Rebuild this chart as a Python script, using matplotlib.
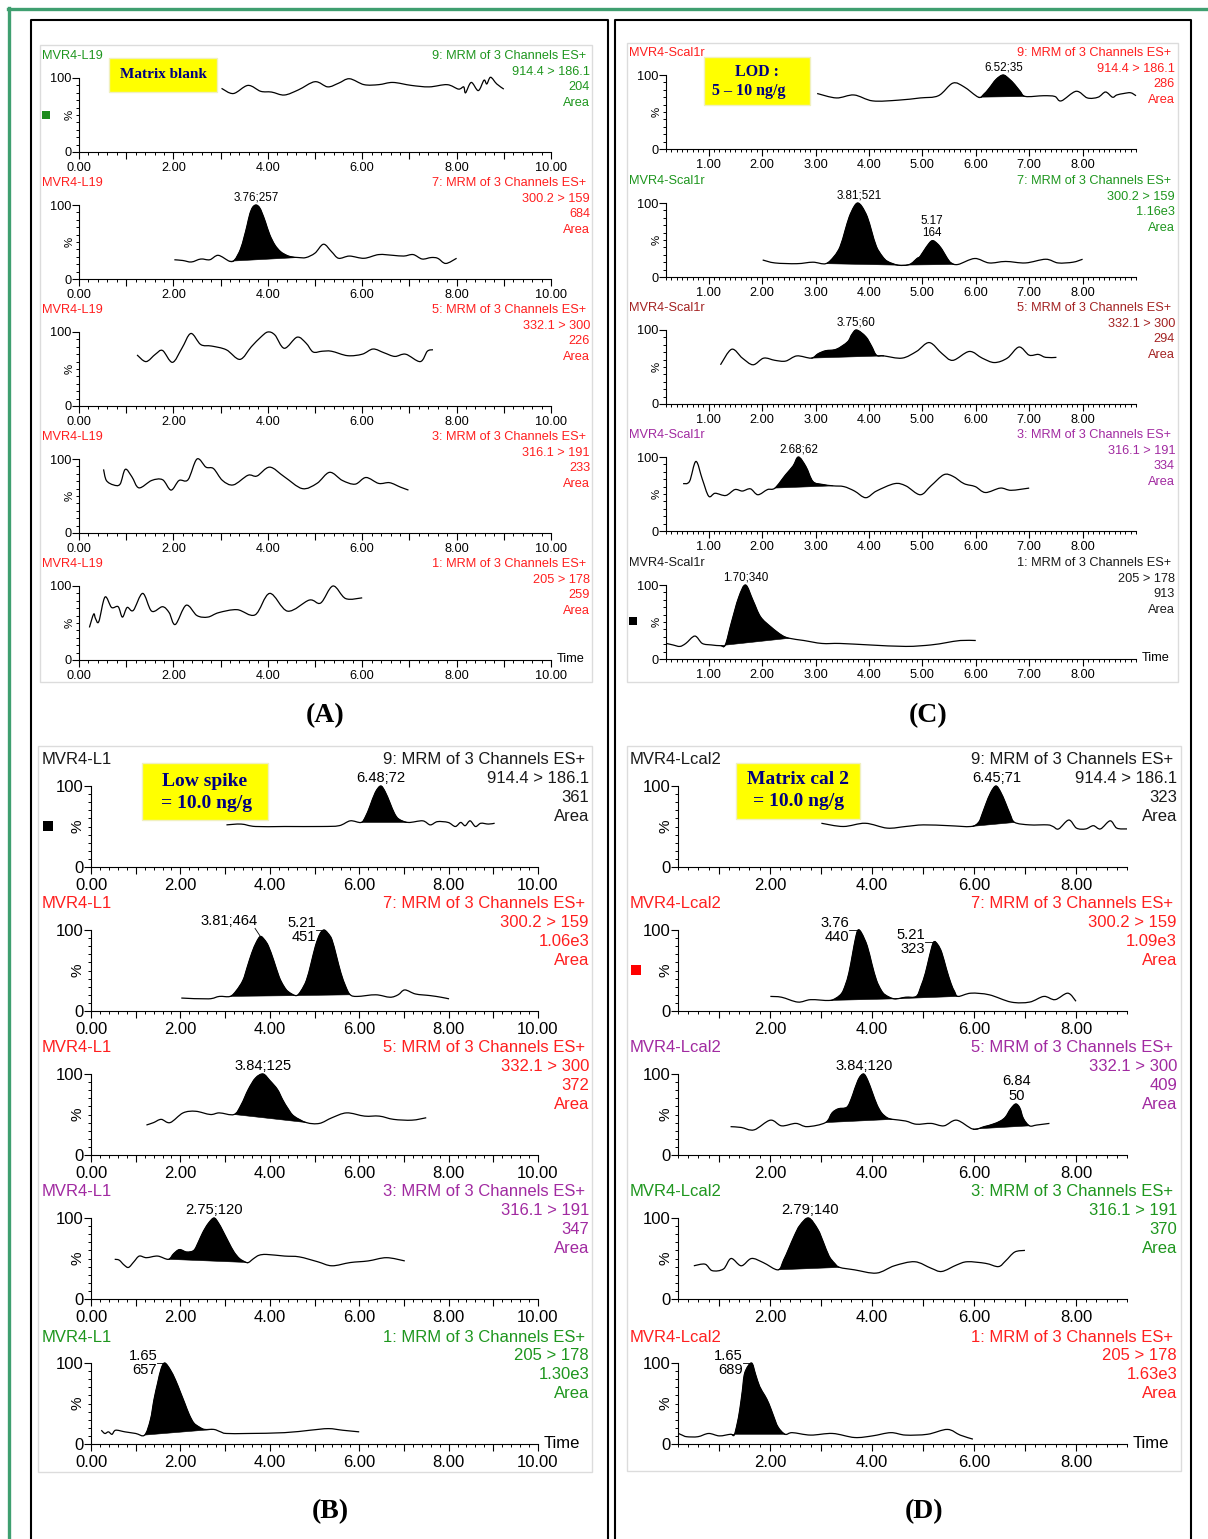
import numpy as np
import matplotlib
matplotlib.use('Agg')
import matplotlib.pyplot as plt
from matplotlib.patches import Rectangle, PathPatch
from matplotlib.path import Path
from matplotlib.lines import Line2D
from matplotlib.ticker import MultipleLocator

plt.rcParams['font.family'] = ['Liberation Sans', 'DejaVu Sans']

W, H = 1208, 1539

# chromatogram traces: (retention time min, % of channel max)
# panel A - matrix blank
A1 = [(3.02, 86), (3.27, 79), (3.58, 90), (3.85, 82), (4.08, 81), (4.35, 77), (4.65, 84), (5.0, 95),
      (5.27, 88), (5.5, 93), (5.73, 99), (6.04, 91), (6.35, 91), (6.65, 94), (7.04, 90), (7.42, 88),
      (7.8, 91), (8.04, 85), (8.15, 88), (8.19, 80), (8.31, 94), (8.46, 83), (8.58, 97), (8.64, 92),
      (8.72, 101), (8.85, 92), (9.0, 85)]
A2 = [(2.02, 26), (2.2, 25), (2.38, 23), (2.58, 27), (2.77, 26), (2.95, 32), (3.19, 24), (3.3, 26),
      (3.42, 40), (3.5, 57), (3.56, 72), (3.62, 88), (3.68, 97), (3.75, 100), (3.82, 97), (3.88, 89),
      (3.95, 77), (4.04, 60), (4.15, 46), (4.27, 37), (4.4, 32), (4.5, 30), (4.65, 29), (4.81, 29),
      (5.0, 35), (5.18, 47), (5.35, 37), (5.5, 28), (5.73, 31), (6.04, 28), (6.35, 33), (6.65, 32),
      (6.88, 31), (7.08, 33), (7.27, 27), (7.46, 29), (7.6, 28), (7.77, 21), (8.0, 28)]
A3 = [(1.23, 69), (1.42, 60), (1.62, 70), (1.77, 75), (1.98, 59), (2.18, 78), (2.37, 98), (2.58, 83),
      (2.81, 81), (3.12, 76), (3.41, 63), (3.65, 80), (3.85, 93), (4.0, 100), (4.15, 96), (4.35, 78),
      (4.62, 93), (4.81, 85), (4.96, 73), (5.15, 74), (5.35, 74), (5.69, 68), (6.0, 70), (6.23, 77),
      (6.46, 72), (6.69, 67), (6.92, 70), (7.23, 60), (7.38, 74), (7.5, 76)]
A4 = [(0.52, 86), (0.58, 71), (0.73, 65), (0.87, 66), (0.98, 86), (1.12, 76), (1.27, 61), (1.54, 71),
      (1.77, 72), (1.95, 58), (2.12, 71), (2.31, 72), (2.5, 100), (2.69, 89), (2.85, 87), (3.04, 71),
      (3.27, 65), (3.58, 78), (3.77, 77), (4.04, 89), (4.35, 76), (4.73, 60), (5.04, 67), (5.31, 82),
      (5.58, 71), (5.85, 66), (6.08, 75), (6.35, 67), (6.58, 68), (6.81, 62), (6.98, 58)]
A5 = [(0.22, 44), (0.31, 62), (0.35, 56), (0.42, 52), (0.55, 85), (0.69, 71), (0.83, 72), (0.92, 58),
      (1.02, 71), (1.15, 67), (1.35, 90), (1.54, 66), (1.77, 72), (1.91, 64), (2.04, 48), (2.27, 74),
      (2.5, 60), (2.73, 58), (2.96, 64), (3.35, 68), (3.73, 61), (4.04, 90), (4.42, 66), (4.88, 81),
      (5.12, 77), (5.38, 100), (5.65, 83), (6.0, 84)]

# panel C - LOD standard
C1 = [(3.03, 75), (3.39, 69), (3.72, 73), (4.07, 65), (4.55, 66), (4.96, 69), (5.3, 72), (5.57, 89),
      (5.78, 84), (6.05, 70), (6.15, 74), (6.25, 82), (6.38, 94), (6.51, 100), (6.62, 95), (6.73, 87),
      (6.83, 78), (6.93, 71), (7.27, 72), (7.48, 71), (7.6, 65), (7.88, 78), (8.09, 69), (8.29, 70),
      (8.43, 77), (8.56, 70), (8.64, 73), (8.77, 75), (8.9, 76), (9.0, 72)]
C2 = [(2.01, 23), (2.24, 19), (2.65, 18), (2.95, 20), (3.19, 18), (3.35, 28), (3.46, 41), (3.55, 62),
      (3.63, 81), (3.72, 95), (3.79, 100), (3.87, 95), (3.97, 81), (4.05, 62), (4.14, 41), (4.25, 28),
      (4.35, 21), (4.55, 16), (4.76, 17), (4.9, 25), (4.96, 28), (5.07, 40), (5.18, 49), (5.28, 45),
      (5.37, 37), (5.46, 26), (5.54, 19), (5.67, 17), (5.98, 25), (6.25, 19), (6.56, 21), (6.93, 19),
      (7.31, 24), (7.54, 19), (7.82, 20), (8.0, 24)]
C3 = [(1.22, 53), (1.43, 74), (1.63, 62), (1.83, 53), (2.03, 62), (2.24, 59), (2.44, 58), (2.65, 65),
      (2.92, 62), (3.05, 68), (3.19, 72), (3.39, 74), (3.6, 84), (3.68, 94), (3.77, 100), (3.94, 91),
      (4.05, 78), (4.14, 66), (4.28, 65), (4.62, 62), (4.89, 71), (5.13, 83), (5.37, 68), (5.57, 59),
      (5.88, 71), (6.12, 62), (6.35, 56), (6.59, 62), (6.81, 77), (7.0, 66), (7.17, 67), (7.31, 63),
      (7.51, 63)]
C4 = [(0.52, 64), (0.64, 67), (0.76, 94), (0.88, 70), (1.0, 47), (1.12, 51), (1.32, 48), (1.49, 56),
      (1.63, 54), (1.78, 57), (1.92, 49), (2.1, 56), (2.24, 58), (2.44, 76), (2.58, 88), (2.68, 100),
      (2.82, 87), (2.95, 67), (3.12, 63), (3.33, 61), (3.53, 60), (3.73, 54), (3.94, 45), (4.14, 54),
      (4.48, 64), (4.69, 61), (4.96, 49), (5.16, 61), (5.4, 76), (5.57, 74), (5.78, 64), (5.99, 60),
      (6.18, 52), (6.46, 58), (6.66, 55), (7.0, 58)]
C5 = [(0.21, 21), (0.33, 19), (0.46, 17), (0.57, 21), (0.74, 31), (0.88, 21), (1.05, 19), (1.22, 18),
      (1.31, 19), (1.42, 48), (1.56, 83), (1.69, 100), (1.83, 79), (1.97, 57), (2.17, 43), (2.37, 32),
      (2.51, 28), (2.78, 25), (3.12, 21), (3.46, 21), (4.01, 19), (4.69, 17), (5.16, 19), (5.44, 22),
      (5.71, 25), (6.0, 25)]

# panel B - low spike
B1 = [(3.03, 52), (3.36, 53), (3.68, 50), (4.33, 50), (5.15, 50), (5.55, 51), (5.8, 57), (6.04, 55),
      (6.14, 62), (6.24, 75), (6.36, 92), (6.48, 100), (6.58, 93), (6.69, 79), (6.79, 66), (6.89, 59),
      (7.1, 55), (7.42, 57), (7.59, 52), (7.75, 56), (7.99, 55), (8.15, 50), (8.27, 55), (8.37, 51),
      (8.48, 57), (8.6, 50), (8.72, 54), (8.89, 53), (9.03, 54)]
B2 = [(2.02, 16), (2.63, 15), (2.87, 18), (3.11, 18), (3.25, 25), (3.4, 38), (3.5, 55), (3.6, 72),
      (3.7, 85), (3.79, 92), (3.88, 88), (3.97, 80), (4.09, 62), (4.21, 42), (4.31, 31), (4.41, 24),
      (4.59, 19), (4.7, 25), (4.82, 38), (4.92, 58), (5.02, 80), (5.12, 95), (5.21, 100), (5.3, 96),
      (5.39, 88), (5.49, 68), (5.59, 47), (5.7, 30), (5.8, 20), (5.96, 18), (6.37, 20), (6.69, 17),
      (6.87, 20), (7.02, 26), (7.26, 21), (7.59, 19), (7.83, 17), (8.01, 15)]
B3 = [(1.24, 37), (1.4, 40), (1.57, 44), (1.77, 40), (2.06, 52), (2.34, 54), (2.67, 50), (2.87, 52),
      (3.2, 50), (3.36, 62), (3.52, 81), (3.68, 95), (3.85, 100), (4.0, 92), (4.17, 81), (4.29, 68),
      (4.41, 57), (4.54, 48), (4.82, 40), (5.11, 39), (5.39, 46), (5.72, 52), (6.12, 48), (6.45, 48),
      (6.77, 44), (7.18, 43), (7.5, 46)]
B4 = [(0.53, 49), (0.63, 48), (0.74, 42), (0.84, 39), (0.96, 46), (1.08, 53), (1.24, 51), (1.49, 53),
      (1.73, 49), (1.85, 56), (1.98, 61), (2.14, 58), (2.3, 60), (2.4, 70), (2.5, 82), (2.62, 93),
      (2.75, 100), (2.85, 94), (2.95, 84), (3.08, 70), (3.2, 58), (3.32, 50), (3.44, 46), (3.52, 45),
      (3.64, 50), (3.76, 54), (3.93, 55), (4.33, 53), (4.66, 52), (5.07, 46), (5.39, 41), (5.8, 45),
      (6.2, 47), (6.61, 51), (7.02, 47)]
B5 = [(0.23, 17), (0.31, 13), (0.39, 15), (0.47, 12), (0.55, 17), (0.76, 15), (1.0, 13), (1.2, 11),
      (1.33, 30), (1.41, 55), (1.49, 75), (1.57, 93), (1.65, 100), (1.77, 92), (1.89, 79), (2.0, 64),
      (2.1, 50), (2.2, 36), (2.3, 26), (2.42, 21), (2.54, 18), (2.75, 18), (2.9, 15), (3.03, 13),
      (3.52, 13), (4.33, 14), (4.9, 17), (5.31, 19), (5.63, 17), (6.0, 15)]

# panel D - matrix cal 2
D1 = [(3.01, 54), (3.44, 50), (3.87, 54), (4.3, 48), (4.66, 50), (5.01, 52), (5.51, 51), (5.94, 50),
      (6.09, 55), (6.16, 65), (6.23, 77), (6.33, 92), (6.43, 100), (6.52, 93), (6.62, 79), (6.71, 65),
      (6.8, 55), (7.09, 52), (7.44, 52), (7.55, 50), (7.66, 47), (7.86, 58), (8.01, 48), (8.19, 47),
      (8.34, 51), (8.48, 47), (8.67, 57), (8.8, 48), (9.0, 47)]
D2 = [(2.01, 18), (2.23, 17), (2.55, 11), (2.8, 14), (3.16, 13), (3.3, 16), (3.41, 22), (3.48, 32),
      (3.55, 47), (3.62, 70), (3.68, 90), (3.73, 100), (3.8, 96), (3.91, 80), (4.0, 58), (4.09, 38),
      (4.18, 26), (4.26, 20), (4.44, 15), (4.66, 17), (4.87, 18), (4.96, 30), (5.05, 47), (5.13, 68),
      (5.21, 85), (5.29, 82), (5.37, 72), (5.46, 52), (5.55, 34), (5.62, 24), (5.69, 18), (5.94, 22),
      (6.3, 20), (6.73, 11), (7.09, 11), (7.37, 18), (7.59, 14), (7.84, 22), (8.0, 12)]
D3 = [(1.23, 35), (1.44, 34), (1.69, 31), (2.01, 43), (2.23, 36), (2.51, 39), (2.73, 35), (3.09, 40),
      (3.22, 52), (3.34, 57), (3.51, 59), (3.6, 70), (3.66, 81), (3.75, 95), (3.84, 100), (3.92, 92),
      (4.01, 77), (4.1, 62), (4.19, 52), (4.3, 46), (4.41, 44), (4.66, 42), (4.87, 38), (5.16, 39),
      (5.41, 36), (5.66, 43), (5.98, 32), (6.2, 35), (6.37, 38), (6.52, 42), (6.62, 47), (6.72, 57),
      (6.82, 63), (6.9, 58), (6.97, 45), (7.09, 36), (7.23, 37), (7.48, 39)]
D4 = [(0.51, 41), (0.73, 43), (0.87, 35), (1.09, 37), (1.24, 50), (1.44, 41), (1.64, 50), (1.87, 45),
      (2.16, 36), (2.27, 48), (2.37, 62), (2.48, 78), (2.59, 91), (2.76, 100), (2.94, 86), (3.05, 70),
      (3.16, 53), (3.27, 44), (3.37, 39), (3.66, 36), (4.09, 32), (4.44, 41), (4.84, 46), (5.16, 38),
      (5.37, 34), (5.66, 42), (5.87, 46), (6.23, 44), (6.48, 40), (6.62, 47), (6.8, 58), (7.0, 60)]
D5 = [(0.21, 13), (0.28, 11), (0.37, 9), (0.59, 9), (0.8, 13), (1.01, 10), (1.23, 12), (1.3, 11),
      (1.36, 25), (1.41, 42), (1.46, 65), (1.51, 88), (1.64, 100), (1.72, 86), (1.8, 71), (1.9, 60),
      (1.98, 50), (2.07, 35), (2.16, 21), (2.3, 12), (2.44, 14), (2.8, 11), (3.23, 13), (3.66, 8),
      (4.01, 10), (4.37, 14), (4.66, 11), (5.09, 12), (5.48, 18), (5.73, 11), (5.98, 6)]

# integrated peaks (start, end) per channel
A_fills = [[], [(3.19, 4.65)], [], [], []]
C_fills = [[(6.05, 6.93)], [(3.19, 4.55), (4.55, 5.67)], [(2.92, 4.28)], [(2.24, 3.33)], [(1.22, 2.51)]]
B_fills = [[(6.04, 7.1)], [(3.11, 4.59), (4.59, 5.8)], [(3.2, 4.82)], [(1.73, 3.52)], [(1.2, 2.75)]]
D_fills = [[(5.94, 6.8)], [(3.16, 4.44), (4.44, 5.69)], [(3.09, 4.41), (5.98, 7.09)], [(2.16, 3.37)],
           [(1.23, 2.3)]]

# peak labels: (time, %, text, style)
A_peaks = [[], [(3.76, 100, '3.76;257', 'c')], [], [], []]
C_peaks = [[(6.52, 100, '6.52;35', 'c')],
           [(3.81, 100, '3.81;521', 'c'), (5.17, 49, '5.17\n164', 'c')],
           [(3.75, 100, '3.75;60', 'c')], [(2.68, 100, '2.68;62', 'c')], [(1.70, 100, '1.70;340', 'c')]]
B_peaks = [[(6.48, 100, '6.48;72', 'c')],
           [(3.79, 92, '3.81;464', 'l'), (5.21, 100, '5.21\n451', 'r')],
           [(3.84, 100, '3.84;125', 'c')], [(2.75, 100, '2.75;120', 'c')], [(1.65, 100, '1.65\n657', 'r')]]
D_peaks = [[(6.45, 100, '6.45;71', 'c')],
           [(3.73, 100, '3.76\n440', 'r'), (5.21, 85, '5.21\n323', 'r')],
           [(3.84, 100, '3.84;120', 'c'), (6.84, 63, '6.84\n50', 'c')],
           [(2.79, 100, '2.79;140', 'c')], [(1.64, 100, '1.65\n689', 'r')]]

CHANNELS = ['9: MRM of 3 Channels ES+', '7: MRM of 3 Channels ES+', '5: MRM of 3 Channels ES+',
            '3: MRM of 3 Channels ES+', '1: MRM of 3 Channels ES+']
TRANSITIONS = ['914.4 > 186.1', '300.2 > 159', '332.1 > 300', '316.1 > 191', '205 > 178']
A_areas = ['204', '684', '226', '233', '259']
C_areas = ['286', '1.16e3', '294', '334', '913']
B_areas = ['361', '1.06e3', '372', '347', '1.30e3']
D_areas = ['323', '1.09e3', '409', '370', '1.63e3']

GREEN, RED, DKRED, PURPLE, BLK = '#1e961e', '#ff1f1f', '#a32222', '#a12aa1', '#1a1a1a'
A_colors = [GREEN, RED, RED, RED, RED]
C_colors = [RED, GREEN, DKRED, PURPLE, BLK]
B_colors = [BLK, RED, RED, PURPLE, GREEN]
D_colors = [BLK, RED, PURPLE, GREEN, RED]

fig = plt.figure(figsize=(W / 100, H / 100), dpi=100)


def fx(x):
    return x / W


def fy(y):
    return 1 - y / H


def ftext(x, y, s, **kw):
    fig.text(fx(x), fy(y), s, **kw)


def fline(xs, ys, **kw):
    fig.add_artist(Line2D([fx(v) for v in xs], [fy(v) for v in ys], transform=fig.transFigure, **kw))


def frect(x0, y0, x1, y1, **kw):
    fig.add_artist(Rectangle((fx(x0), fy(y1)), (x1 - x0) / W, (y1 - y0) / H,
                             transform=fig.transFigure, **kw))


def curve(t, y, i0, i1):
    # bezier path through every read point (smooth rendering, no new data)
    verts, codes = [(t[i0], y[i0])], [Path.MOVETO]
    n = len(t)
    for i in range(i0, i1):
        a, d = max(i - 1, 0), min(i + 2, n - 1)
        c1 = (t[i] + (t[i + 1] - t[a]) / 6, y[i] + (y[i + 1] - y[a]) / 6)
        c2 = (t[i + 1] - (t[d] - t[i]) / 6, y[i + 1] - (y[d] - y[i]) / 6)
        verts += [c1, c2, (t[i + 1], y[i + 1])]
        codes += [Path.CURVE4] * 3
    return verts, codes


def draw_panel(geo, name, colors, areas, traces, fills, peaks):
    fs = geo['fs']
    for i in range(5):
        y0, h = geo['y0'][i], geo['h']
        ax = fig.add_axes([fx(geo['x0']), fy(y0), (geo['x1'] - geo['x0']) / W, h / H])
        ax.set_xlim(*geo['xlim'])
        ax.set_ylim(0, 100)
        ax.patch.set_alpha(0)
        for s in ['top', 'right']:
            ax.spines[s].set_visible(False)
        for s in ['left', 'bottom']:
            ax.spines[s].set_linewidth(0.8)
        majors = np.arange(np.ceil(geo['xlim'][0]), geo['maxlab'] + 0.01, 1.0)
        ax.set_xticks(majors)
        ax.set_xticklabels([f'{v:.2f}' if int(round(v)) % geo['lab'] == 0 else '' for v in majors])
        ax.xaxis.set_minor_locator(MultipleLocator(geo['minor']))
        ax.set_yticks([0, 100])
        ax.set_yticklabels(['0', '100'])
        ax.yaxis.set_minor_locator(MultipleLocator(10))
        ax.tick_params(which='major', length=5, width=0.8, labelsize=fs, pad=geo['pad'])
        ax.tick_params(which='minor', length=2.5, width=0.7)
        ax.tick_params(axis='y', which='major', pad=0.5)

        t = np.array([p[0] for p in traces[i]], dtype=float)
        y = np.array([p[1] for p in traces[i]], dtype=float)
        for ts, te in fills[i]:
            i0, i1 = int(np.argmin(abs(t - ts))), int(np.argmin(abs(t - te)))
            verts, codes = curve(t, y, i0, i1)
            verts += [(t[i0], y[i0]), (t[i0], y[i0])]
            codes += [Path.LINETO, Path.CLOSEPOLY]
            ax.add_patch(PathPatch(Path(verts, codes), fc='black', ec='black', lw=0.4, clip_on=False))
        verts, codes = curve(t, y, 0, len(t) - 1)
        ax.add_patch(PathPatch(Path(verts, codes), fill=False, ec='black', lw=0.9, clip_on=False))

        dt = 0.17
        for pt, py, txt, st in peaks[i]:
            if st == 'c':
                ax.annotate(txt, (pt, py), xytext=(0, 1), textcoords='offset points',
                            ha='center', va='bottom', fontsize=geo['pfs'], linespacing=1.05,
                            annotation_clip=False)
            elif st == 'r':
                ax.text(pt - dt, py, txt, ha='right', va='center', fontsize=geo['pfs'],
                        linespacing=1.05, clip_on=False)
                ax.plot([pt - dt, pt], [py, py], color='black', lw=0.6, clip_on=False)
            else:
                ax.text(pt - 0.7, py + 19, txt, ha='center', va='center', fontsize=geo['pfs'],
                        clip_on=False)
                ax.plot([pt - 0.12, pt], [py + 10, py], color='black', lw=0.6, clip_on=False)

        top = y0 - h - geo['top']
        ftext(geo['name_x'], top, name, color=colors[i], fontsize=fs, va='center')
        rx, dy = geo['right_x'], geo['dy']
        ftext(rx - 4, top, CHANNELS[i], color=colors[i], fontsize=fs, va='center', ha='right')
        for k, s in enumerate([TRANSITIONS[i], areas[i], 'Area']):
            ftext(rx, top + dy * (k + 1), s, color=colors[i], fontsize=fs, va='center', ha='right')
        ftext(geo['ylab_x'], y0 - h / 2, '%', fontsize=fs - 1, rotation=90, va='center', ha='center')
    ftext(geo['x1'] + 6, geo['y0'][-1] - 1, 'Time', fontsize=fs, va='center', ha='left')


GEO_A = dict(x0=79, x1=551, xlim=(0, 10), maxlab=10, y0=[152, 279, 406, 533, 660], h=74, fs=9.2,
             pfs=8.4, name_x=42, right_x=590, dy=15.7, top=22, lab=2, minor=0.2, pad=2, ylab_x=70)
GEO_C = dict(x0=666, x1=1136, xlim=(0.2, 9.0), maxlab=8, y0=[149, 277, 404, 531, 659], h=74, fs=9.2,
             pfs=8.4, name_x=629, right_x=1175, dy=15.7, top=22, lab=1, minor=0.1, pad=2, ylab_x=657)
GEO_B = dict(x0=91, x1=538, xlim=(0, 10), maxlab=10, y0=[867, 1011, 1155, 1299, 1444], h=81, fs=12,
             pfs=10.6, name_x=42, right_x=589, dy=18.7, top=26, lab=2, minor=0.2, pad=3, ylab_x=78)
GEO_D = dict(x0=678, x1=1127, xlim=(0.2, 9.0), maxlab=8, y0=[867, 1011, 1155, 1299, 1444], h=81, fs=12,
             pfs=10.6, name_x=630, right_x=1177, dy=18.7, top=26, lab=2, minor=0.2, pad=3, ylab_x=666)

# frames
fline([8.5, 8.5], [8, 1539], color='#3f9f70', lw=2.4)
fline([8, 1208], [8.5, 8.5], color='#3f9f70', lw=2.4)
for xl, xr in [(31, 608), (615, 1191)]:
    fline([xl, xl, xr, xr], [1539, 19.5, 19.5, 1539], color='black', lw=1.5)
for box in [(40, 45, 592, 682), (627, 43, 1178, 682), (38, 746, 592, 1472), (627, 746, 1181, 1471)]:
    frect(*box, fill=False, ec='#dcdcdc', lw=1)

draw_panel(GEO_A, 'MVR4-L19', A_colors, A_areas, [A1, A2, A3, A4, A5], A_fills, A_peaks)
draw_panel(GEO_C, 'MVR4-Scal1r', C_colors, C_areas, [C1, C2, C3, C4, C5], C_fills, C_peaks)
draw_panel(GEO_B, 'MVR4-L1', B_colors, B_areas, [B1, B2, B3, B4, B5], B_fills, B_peaks)
draw_panel(GEO_D, 'MVR4-Lcal2', D_colors, D_areas, [D1, D2, D3, D4, D5], D_fills, D_peaks)

# sample boxes
serif = dict(family=['Liberation Serif', 'DejaVu Serif'], weight='bold', color='#000080')
frect(109, 58, 217, 92, fc='#ffff00', ec='#f0f0c0', lw=1)
ftext(163, 74, 'Matrix blank', ha='center', va='center', fontsize=11, **serif)
frect(704, 57, 810, 105, fc='#ffff00', ec='#f0f0c0', lw=1)
ftext(757, 72, 'LOD :', ha='center', va='center', fontsize=11.5, **serif)
ftext(749, 91, '5 – 10 ng/g', ha='center', va='center', fontsize=11.5, **serif)
frect(142, 763, 268, 820, fc='#ffff00', ec='#f0f0c0', lw=1)
ftext(205, 781, 'Low spike', ha='center', va='center', fontsize=14, **serif)
ftext(207, 803, '= 10.0 ng/g', ha='center', va='center', fontsize=14, **serif)
frect(736, 763, 860, 819, fc='#ffff00', ec='#f0f0c0', lw=1)
ftext(798, 780, 'Matrix cal 2', ha='center', va='center', fontsize=14, **serif)
ftext(799, 801, '= 10.0 ng/g', ha='center', va='center', fontsize=14, **serif)

# small colour flags
frect(42, 111, 50, 119, fc='#1a8a1a', ec='none')
frect(629, 617, 637, 625, fc='black', ec='none')
frect(43, 821, 53, 831, fc='black', ec='none')
frect(631, 965, 641, 975, fc='#ff0000', ec='none')

# panel letters
for (x, y), s in zip([(325, 716), (928, 716), (330, 1512), (924, 1512)], ['(A)', '(C)', '(B)', '(D)']):
    ftext(x, y, s, ha='center', va='center', fontsize=20, family=['Liberation Serif'], weight='bold')

fig.savefig('out.png', dpi=100)
